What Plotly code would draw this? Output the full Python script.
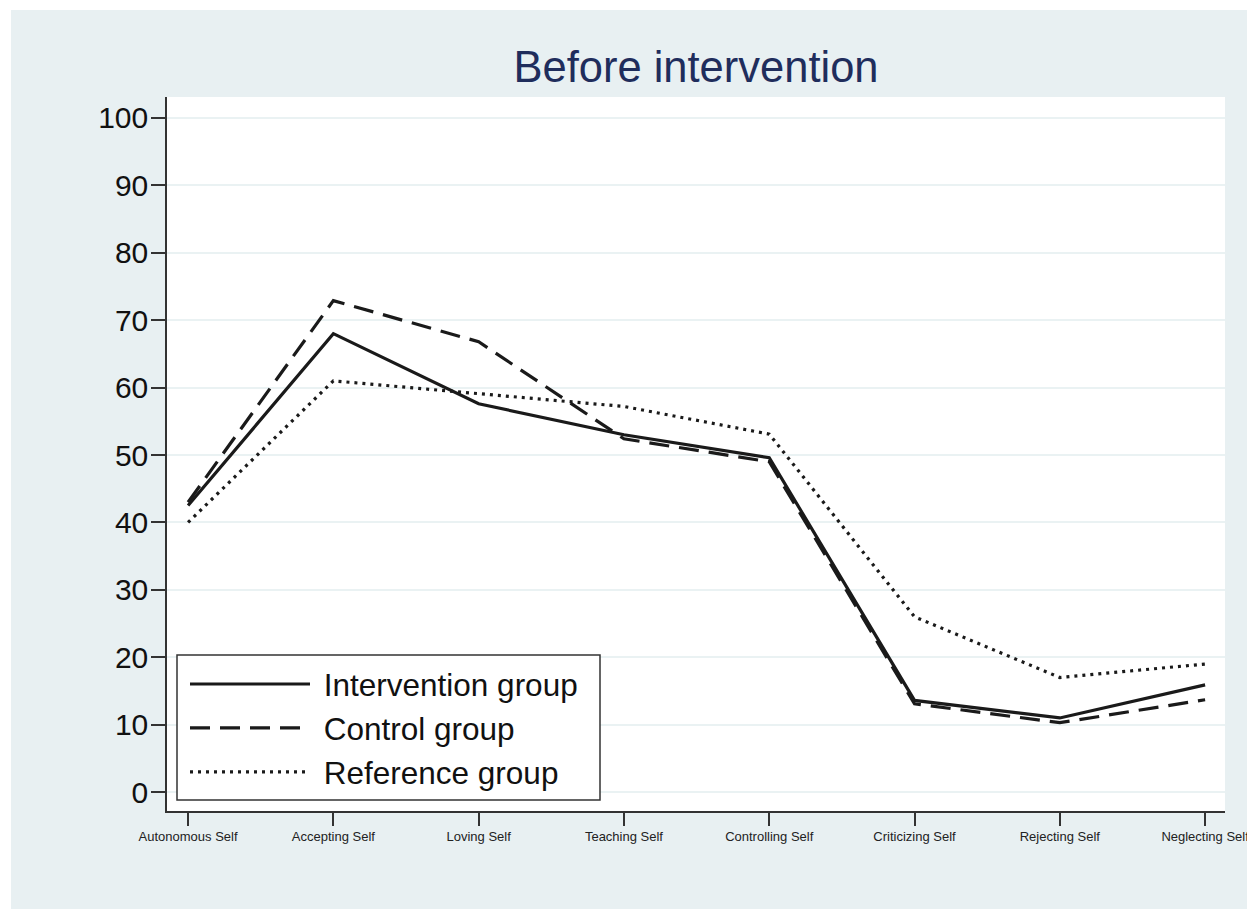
import plotly.graph_objects as go

categories = ["Autonomous Self", "Accepting Self", "Loving Self", "Teaching Self",
              "Controlling Self", "Criticizing Self", "Rejecting Self", "Neglecting Self"]
intervention = [42.5, 68.0, 57.6, 53.0, 49.6, 13.6, 11.0, 15.9]
control = [43.0, 72.9, 66.8, 52.4, 49.0, 13.1, 10.3, 13.7]
reference = [40.0, 61.0, 59.1, 57.2, 53.1, 26.0, 17.0, 19.0]
y_ticks = [0, 10, 20, 30, 40, 50, 60, 70, 80, 90, 100]
series_names = ["Intervention group", "Control group", "Reference group"]

BG = "#e8f0f2"
LINE = "#1a1a1a"
FONT = "Liberation Sans, Arial, sans-serif"

x_idx = list(range(len(categories)))
NB = "\u00a0"

fig = go.Figure()
fig.add_trace(go.Scatter(x=x_idx, y=intervention, mode="lines", name=NB + series_names[0],
                         line=dict(color=LINE, width=3.2)))
fig.add_trace(go.Scatter(x=x_idx, y=control, mode="lines", name=NB + series_names[1],
                         line=dict(color=LINE, width=3.2, dash="20px,10px")))
fig.add_trace(go.Scatter(x=x_idx, y=reference, mode="lines", name=NB + series_names[2],
                         line=dict(color=LINE, width=3.2, dash="3px,5px")))

W, H = 1247, 909
L, R, T, B = 167, 22, 97, 98
pw = W - L - R
ph = H - T - B

fig.update_layout(
    width=W, height=H,
    margin=dict(l=L, r=R, t=T, b=B, autoexpand=False),
    paper_bgcolor=BG,
    plot_bgcolor="white",
    font=dict(family=FONT, color="#111111"),
    title=dict(text="Before intervention", x=0.5, xref="paper", xanchor="center",
               y=1 - 67 / H, yref="container", yanchor="middle",
               font=dict(size=43.5, color="#1f2d5c", family=FONT)),
    showlegend=True,
    legend=dict(x=(185 - L) / pw, y=(811 - 657) / ph, xanchor="left", yanchor="top",
                bgcolor="rgba(0,0,0,0)", borderwidth=0,
                font=dict(size=31.5, color="#111111", family=FONT),
                itemwidth=120, tracegroupgap=0),
    xaxis=dict(range=[-0.145, 7.137], tickmode="array", tickvals=x_idx, ticktext=categories,
               showgrid=False, zeroline=False, showline=True, linecolor="#333333", linewidth=1.5,
               ticks="outside", ticklen=13, tickwidth=1.5, tickcolor="#333333",
               tickfont=dict(size=13, color="#222222", family=FONT), tickangle=0,
               ticklabeloverflow="allow"),
    yaxis=dict(range=[-2.8, 103.1], tickmode="array", tickvals=y_ticks,
               showgrid=True, gridcolor="#eaf2f3", gridwidth=2, zeroline=False,
               showline=True, linecolor="#333333", linewidth=1.5,
               ticks="outside", ticklen=14, tickwidth=1.5, tickcolor="#333333",
               ticklabelstandoff=-3,
               tickfont=dict(size=30, color="#111111", family=FONT)),
)

# white outer border around the light background
fig.add_shape(type="rect", xref="paper", yref="paper",
              x0=-L / pw, x1=(11 - L) / pw, y0=-B / ph, y1=1 + T / ph,
              fillcolor="white", line=dict(width=0), layer="below")
fig.add_shape(type="rect", xref="paper", yref="paper",
              x0=-L / pw, x1=(W - L) / pw, y0=1 + (T - 10) / ph, y1=1 + T / ph,
              fillcolor="white", line=dict(width=0), layer="below")

# legend frame
fig.add_shape(type="rect", xref="paper", yref="paper",
              x0=(177 - L) / pw, x1=(600 - L) / pw,
              y0=(811 - 800) / ph, y1=(811 - 655) / ph,
              fillcolor="white", line=dict(color="#333333", width=1.5), layer="above")

fig.write_html("out.html", config={"displayModeBar": False},
               post_script="document.body.style.margin='0';")
